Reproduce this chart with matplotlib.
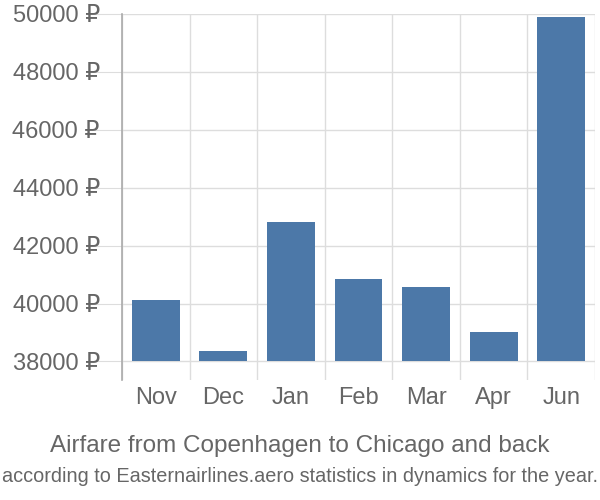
import matplotlib.pyplot as plt

# airfare per month
months = ["Nov", "Dec", "Jan", "Feb", "Mar", "Apr", "Jun"]
prices = [40110, 38360, 42820, 40850, 40570, 39010, 49900]
yticks = [38000, 40000, 42000, 44000, 46000, 48000, 50000]
base = 38000

plt.rcParams["font.family"] = ["Liberation Sans", "DejaVu Sans"]

fig = plt.figure(figsize=(6, 5), dpi=100)
ax = fig.add_axes([0.2033, 0.24, 0.7884, 0.732])

x = range(len(months))
heights = [p - base for p in prices]
ax.bar(x, heights, bottom=base, width=0.71, color="#4c78a8", zorder=3)

ax.set_xlim(-0.5, len(months) - 0.5)
ax.set_ylim(37360, 50000)

# vertical grid at band edges
for b in range(len(months) + 1):
    ax.axvline(b - 0.5, color="#dddddd", linewidth=1, zorder=1)
ax.set_yticks(yticks)
ax.set_yticklabels([f"{t} ₽" for t in yticks])
ax.yaxis.grid(True, color="#dddddd", linewidth=1, zorder=1)
ax.set_xticks(list(x))
ax.set_xticklabels(months)

ax.tick_params(axis="y", length=20, color="#dddddd", labelsize=17, labelcolor="#666666", pad=-4)
ax.tick_params(axis="x", length=0, labelsize=17, labelcolor="#666666", pad=5)

for s in ["top", "right", "bottom"]:
    ax.spines[s].set_visible(False)
ax.spines["left"].set_color("#aaaaaa")
ax.spines["left"].set_linewidth(1.2)

fig.text(0.5, 0.108, "Airfare from Copenhagen to Chicago and back", ha="center", va="center",
         fontsize=17.5, color="#666666")
fig.text(0.5, 0.048, "according to Easternairlines.aero statistics in dynamics for the year.",
         ha="center", va="center", fontsize=14.3, color="#666666")

fig.savefig("out.png", dpi=100)
